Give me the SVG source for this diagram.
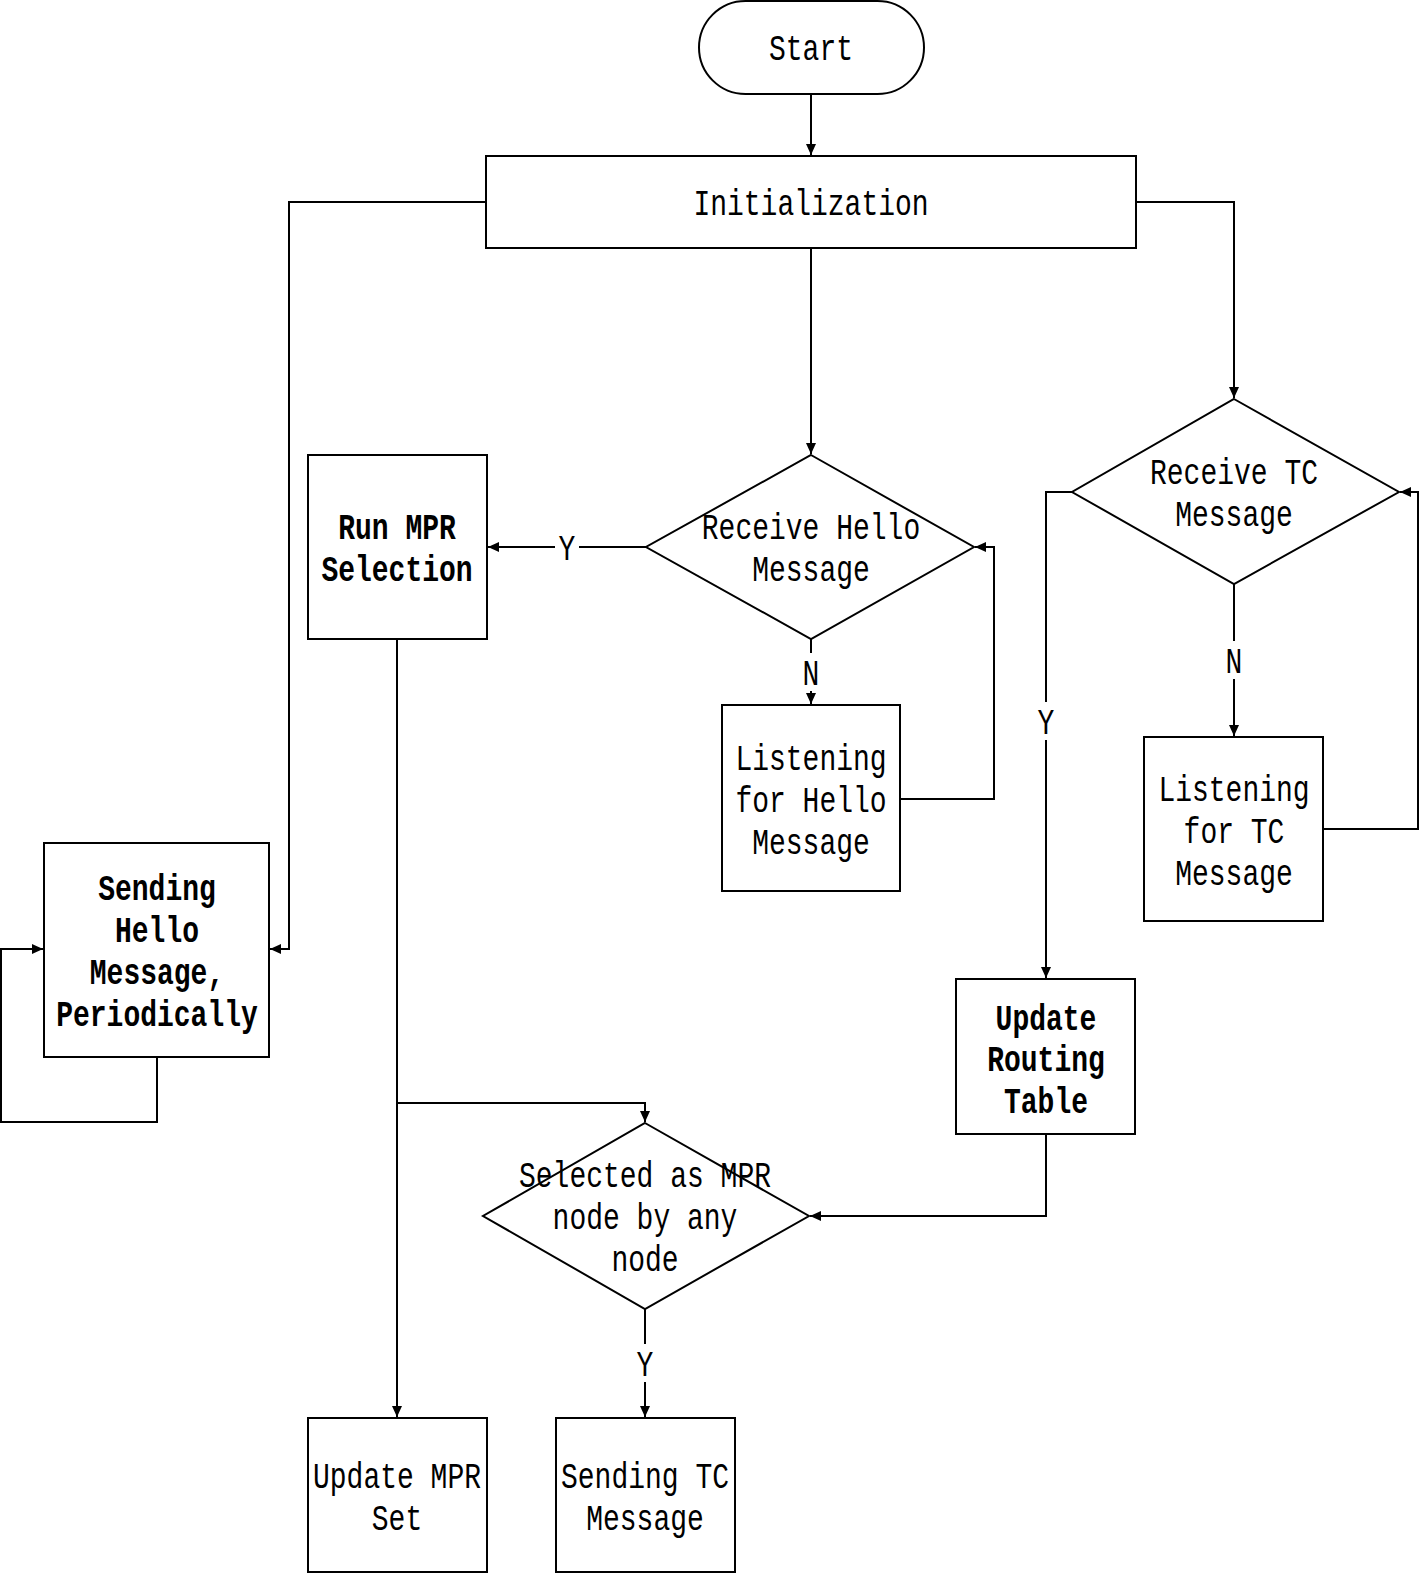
<svg xmlns="http://www.w3.org/2000/svg" width="1419" height="1573" viewBox="0 0 1419 1573">
<defs>
<marker id="arr" markerUnits="userSpaceOnUse" markerWidth="12" markerHeight="10" refX="11" refY="5" orient="auto">
<path d="M0,0 L11,5 L0,10 Z" fill="#000"/>
</marker>
<style>
.s{fill:#fff;stroke:#000;stroke-width:2}
.c{fill:none;stroke:#000;stroke-width:2;marker-end:url(#arr)}
text{font-family:"Liberation Mono","DejaVu Sans Mono",monospace;font-size:28px;text-anchor:middle;fill:#000}
.b{font-weight:bold}
.bg{fill:#fff;stroke:none}
</style>
</defs>
<rect width="1419" height="1573" fill="#fff"/>
<g id="connectors">
<path class="c" d="M811,94 V155"/>
<path class="c" d="M486,202 H289 V949 H270"/>
<path class="c" d="M1136,202 H1234 V398"/>
<path class="c" d="M811,248 V454"/>
<path class="c" d="M646,547 H488"/>
<path class="c" d="M811,639 V704"/>
<path class="c" d="M900,799 H994 V547 H975"/>
<path class="c" d="M1234,584 V736"/>
<path class="c" d="M1323,829 H1418 V492 H1400"/>
<path class="c" d="M1072,492 H1046 V978"/>
<path class="c" d="M1046,1134 V1216 H810"/>
<path class="c" d="M397,639 V1417"/>
<path class="c" d="M397,1103 H645 V1122"/>
<path class="c" d="M645,1309 V1417"/>
<path class="c" d="M157,1057 V1122 H1 V949 H43"/>
<rect class="bg" x="555" y="528" width="24" height="38"/>
<text transform="translate(567,560) scale(1,1.3)">Y</text>
<rect class="bg" x="799" y="653" width="24" height="38"/>
<text transform="translate(811,685) scale(1,1.3)">N</text>
<rect class="bg" x="1222" y="641" width="24" height="38"/>
<text transform="translate(1234,673) scale(1,1.3)">N</text>
<rect class="bg" x="1034" y="702" width="24" height="38"/>
<text transform="translate(1046,734) scale(1,1.3)">Y</text>
<rect class="bg" x="633" y="1344" width="24" height="38"/>
<text transform="translate(645,1376) scale(1,1.3)">Y</text>
</g>
<g id="start">
<rect class="s" x="699" y="1" width="225" height="93" rx="46.5"/>
<text transform="translate(811,60) scale(1,1.3)">Start</text>
</g>
<g id="init">
<rect class="s" x="486" y="156" width="650" height="92"/>
<text transform="translate(811,215) scale(1,1.3)">Initialization</text>
</g>
<g id="hello-diamond">
<path class="s" d="M811,455 L974,547 L811,639 L646,547 Z"/>
<text transform="translate(811,539) scale(1,1.3)">Receive Hello</text>
<text transform="translate(811,581) scale(1,1.3)">Message</text>
</g>
<g id="run-mpr">
<rect class="s" x="308" y="455" width="179" height="184"/>
<text class="b" transform="translate(397,539) scale(1,1.3)">Run MPR</text>
<text class="b" transform="translate(397,581) scale(1,1.3)">Selection</text>
</g>
<g id="listen-hello">
<rect class="s" x="722" y="705" width="178" height="186"/>
<text transform="translate(811,770) scale(1,1.3)">Listening</text>
<text transform="translate(811,812) scale(1,1.3)">for Hello</text>
<text transform="translate(811,854) scale(1,1.3)">Message</text>
</g>
<g id="tc-diamond">
<path class="s" d="M1234,399 L1399,492 L1234,584 L1072,492 Z"/>
<text transform="translate(1234,484) scale(1,1.3)">Receive TC</text>
<text transform="translate(1234,526) scale(1,1.3)">Message</text>
</g>
<g id="listen-tc">
<rect class="s" x="1144" y="737" width="179" height="184"/>
<text transform="translate(1234,801) scale(1,1.3)">Listening</text>
<text transform="translate(1234,843) scale(1,1.3)">for TC</text>
<text transform="translate(1234,885) scale(1,1.3)">Message</text>
</g>
<g id="update-routing">
<rect class="s" x="956" y="979" width="179" height="155"/>
<text class="b" transform="translate(1046,1030) scale(1,1.3)">Update</text>
<text class="b" transform="translate(1046,1071) scale(1,1.3)">Routing</text>
<text class="b" transform="translate(1046,1113) scale(1,1.3)">Table</text>
</g>
<g id="sending-hello">
<rect class="s" x="44" y="843" width="225" height="214"/>
<text class="b" transform="translate(157,900) scale(1,1.3)">Sending</text>
<text class="b" transform="translate(157,942) scale(1,1.3)">Hello</text>
<text class="b" transform="translate(157,984) scale(1,1.3)">Message,</text>
<text class="b" transform="translate(157,1026) scale(1,1.3)">Periodically</text>
</g>
<g id="selected-diamond">
<path class="s" d="M645,1123 L809,1216 L645,1309 L483,1216 Z"/>
<text transform="translate(645,1187) scale(1,1.3)">Selected as MPR</text>
<text transform="translate(645,1229) scale(1,1.3)">node by any</text>
<text transform="translate(645,1271) scale(1,1.3)">node</text>
</g>
<g id="update-mpr">
<rect class="s" x="308" y="1418" width="179" height="154"/>
<text transform="translate(397,1488) scale(1,1.3)">Update MPR</text>
<text transform="translate(397,1530) scale(1,1.3)">Set</text>
</g>
<g id="sending-tc">
<rect class="s" x="556" y="1418" width="179" height="154"/>
<text transform="translate(645,1488) scale(1,1.3)">Sending TC</text>
<text transform="translate(645,1530) scale(1,1.3)">Message</text>
</g>
</svg>
